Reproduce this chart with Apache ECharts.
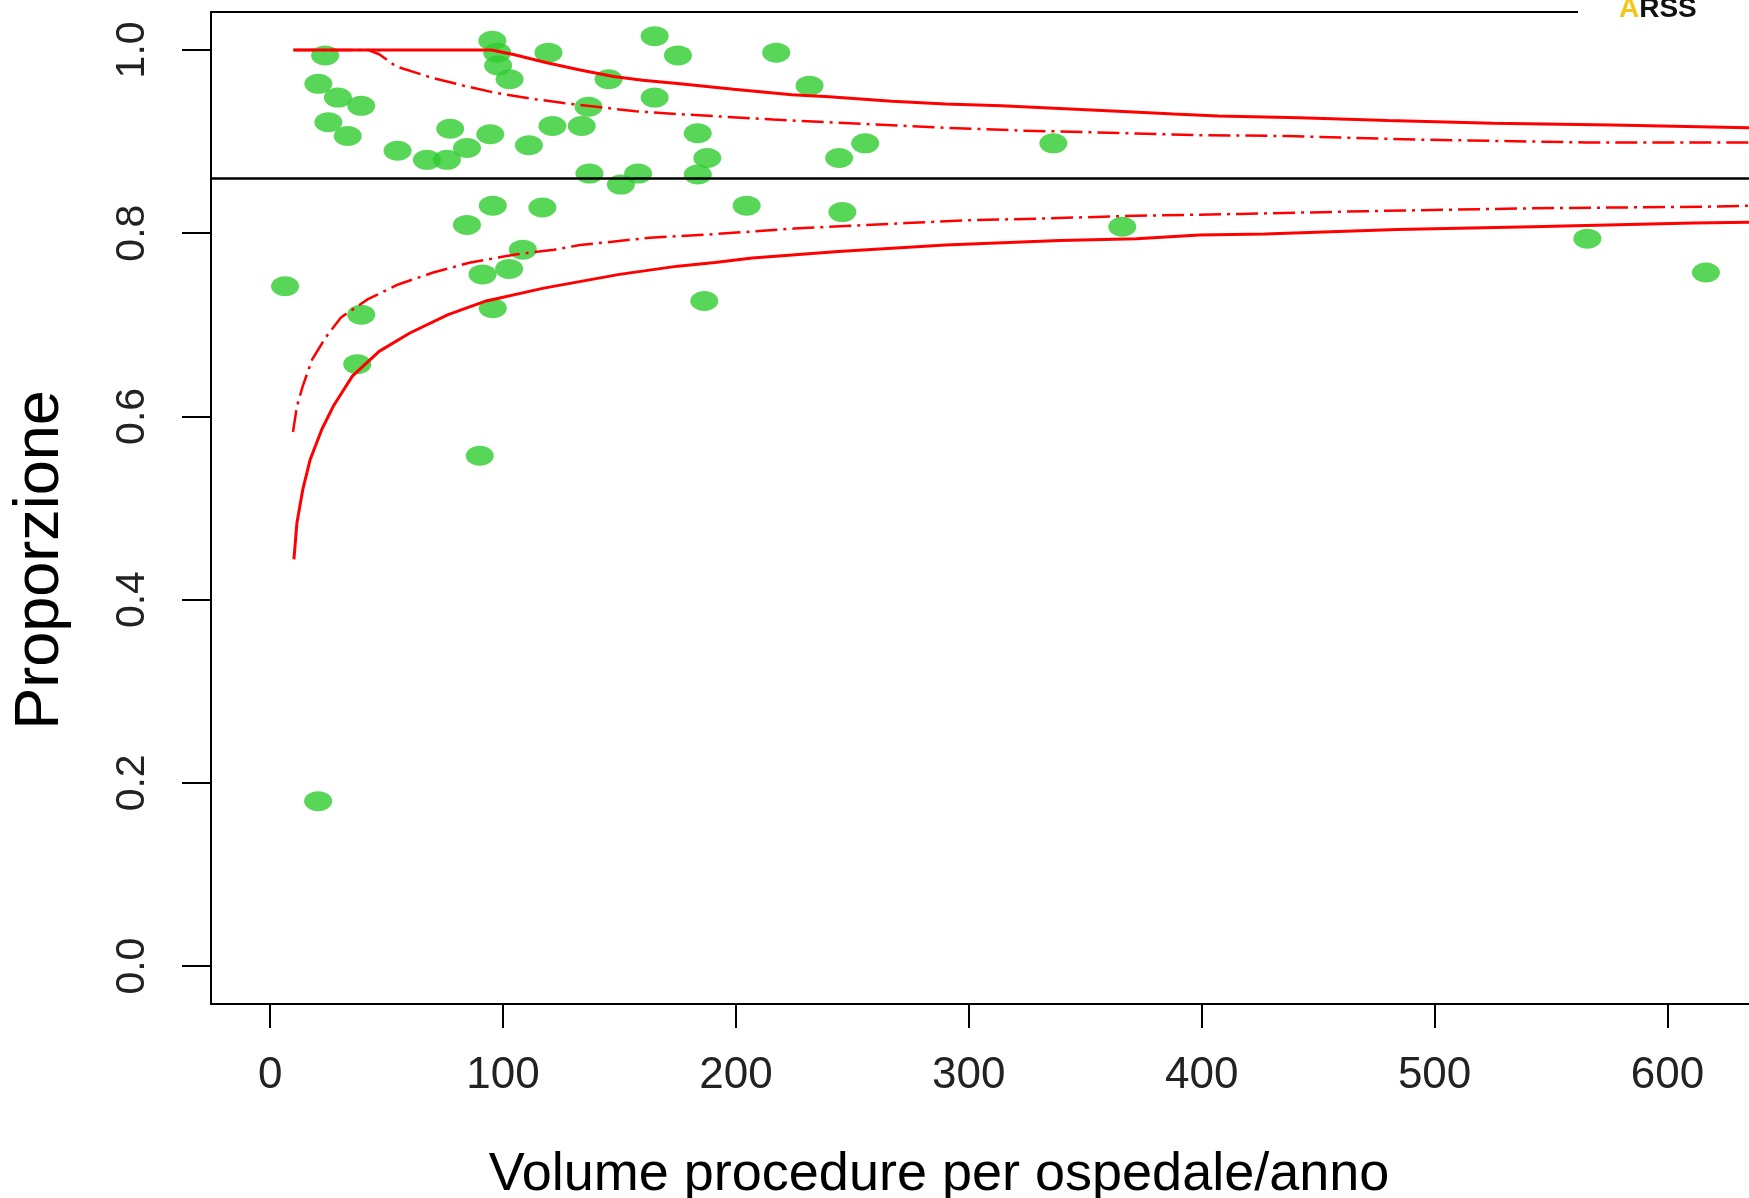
<!DOCTYPE html>
<html lang="it">
<head>
    <meta charset="UTF-8">
    <title>Funnel plot - proporzione per volume</title>
    <script src="https://cdn.jsdelivr.net/npm/echarts@6/dist/echarts.min.js"></script>
    <style>
        html, body { margin: 0; height: 100%; background: #fff; }
        #main { width: 1749px; height: 1198px; }
    </style>
</head>
<body>
<div id="main"></div>
<script>
    // volume procedure per ospedale/anno e proporzione osservata
    var hospVolume = [23.6, 20.7, 29.1, 39.1, 25.0, 33.3, 54.7, 67.3, 75.9, 77.3, 84.5, 94.5,
        95.4, 97.5, 97.9, 102.8, 119.5, 111.1, 121.2, 133.8, 136.7, 145.3, 165.1, 165.1, 175.1,
        137.1, 150.6, 158.0, 95.6, 116.9, 84.5, 108.5, 91.2, 102.6, 6.4, 39.1, 95.6, 37.4, 90.0,
        20.6, 217.3, 231.6, 183.6, 187.7, 183.6, 244.3, 255.5, 336.3, 204.6, 245.7, 365.9, 186.4,
        565.6, 616.5];
    var hospProp = [0.994, 0.963, 0.948, 0.939, 0.921, 0.906, 0.890, 0.880, 0.880, 0.914, 0.893, 0.908,
        1.010, 0.997, 0.983, 0.968, 0.997, 0.896, 0.917, 0.917, 0.938, 0.968, 1.015, 0.948, 0.994,
        0.865, 0.853, 0.865, 0.830, 0.828, 0.809, 0.782, 0.755, 0.761, 0.742, 0.711, 0.718, 0.657, 0.557,
        0.180, 0.997, 0.961, 0.909, 0.882, 0.864, 0.882, 0.898, 0.898, 0.830, 0.823, 0.807, 0.726,
        0.794, 0.757];

    // media regionale
    var meanProp = 0.865;

    // limiti di controllo: [volume, proporzione]
    var upperOuter = [[10, 1.0], [95, 1.0], [104.5, 0.995], [118.8, 0.986], [133.1, 0.978], [147.4, 0.971],
        [160, 0.967], [176, 0.963], [199, 0.957], [224, 0.951], [240, 0.949], [267, 0.944], [290, 0.941],
        [314, 0.939], [339, 0.936], [364, 0.933], [388, 0.930], [407, 0.928], [442, 0.926], [480, 0.923],
        [525, 0.920], [576, 0.918], [635, 0.915]];
    var upperInner = [[10, 1.0], [42, 1.0], [47, 0.995], [54, 0.982], [69, 0.970], [83, 0.961], [97, 0.953],
        [111.5, 0.947], [126, 0.942], [140, 0.938], [157, 0.933], [175, 0.930], [216, 0.924], [257, 0.919],
        [290, 0.915], [322, 0.912], [355, 0.910], [399, 0.907], [437, 0.906], [495, 0.902], [565, 0.899],
        [635, 0.899]];
    var lowerInner = [[9.8, 0.583], [11.5, 0.611], [14, 0.633], [18, 0.662], [23.8, 0.686], [30.4, 0.708],
        [42, 0.728], [55, 0.744], [70, 0.757], [86, 0.768], [106, 0.777], [122, 0.782], [133, 0.787],
        [163, 0.795], [191, 0.799], [225, 0.805], [273, 0.811], [299, 0.814], [332, 0.816], [372, 0.819],
        [417, 0.821], [471, 0.824], [538, 0.827], [619, 0.829], [635, 0.830]];
    var lowerOuter = [[10.2, 0.444], [11.5, 0.484], [14, 0.520], [17.2, 0.553], [22.2, 0.586], [27.1, 0.611],
        [35.3, 0.644], [46.8, 0.671], [60, 0.691], [76.4, 0.711], [92.8, 0.726], [117.5, 0.740], [150, 0.755],
        [175, 0.764], [191, 0.768], [207, 0.773], [244, 0.780], [290, 0.787], [339, 0.792], [372, 0.794],
        [399, 0.798], [427, 0.799], [484, 0.804], [542, 0.807], [611, 0.811], [635, 0.812]];

    var xTicks = [0, 100, 200, 300, 400, 500, 600];
    var yTicks = [0, 0.2, 0.4, 0.6, 0.8, 1.0];

    var font = '"Liberation Sans", Arial, sans-serif';
    var black = { color: '#000', width: 2 };

    var points = hospVolume.map(function (v, i) { return [v, hospProp[i]]; });

    function limitLine(data, dashed) {
        return {
            type: 'line',
            data: data,
            symbol: 'none',
            silent: true,
            z: 5,
            lineStyle: {
                color: '#ff0000',
                width: dashed ? 2.5 : 3,
                type: dashed ? [22, 6, 3, 6] : 'solid'
            }
        };
    }

    var option = {
        backgroundColor: '#fff',
        animation: false,
        grid: { left: 211, top: 12, right: 0, bottom: 194 },
        xAxis: [{
            type: 'value',
            min: -25.4,
            max: 635,
            position: 'bottom',
            axisLine: { onZero: false, lineStyle: black },
            axisTick: { customValues: xTicks, length: 24, lineStyle: black },
            axisLabel: {
                customValues: xTicks, fontSize: 44, fontFamily: font,
                color: '#222', margin: 50
            },
            splitLine: { show: false }
        }, {
            type: 'value',
            min: -25.4,
            max: 635,
            position: 'top',
            axisLine: { onZero: false, lineStyle: black },
            axisTick: { show: false },
            axisLabel: { show: false },
            splitLine: { show: false }
        }],
        yAxis: {
            type: 'value',
            min: -0.0414,
            max: 1.0414,
            axisLine: { show: true, onZero: false, lineStyle: black },
            axisTick: { show: true, customValues: yTicks, length: 29, lineStyle: black },
            axisLabel: {
                customValues: yTicks, rotate: 90, fontSize: 41, fontFamily: font,
                color: '#222', margin: 58,
                formatter: function (v) { return v.toFixed(1); }
            },
            splitLine: { show: false }
        },
        series: [{
            type: 'scatter',
            data: points,
            symbol: 'circle',
            symbolSize: [28, 20],
            z: 2,
            itemStyle: { color: '#2ecc2e' },
            markLine: {
                silent: true,
                symbol: 'none',
                label: { show: false },
                lineStyle: { color: '#000', width: 2.5, type: 'solid' },
                data: [{ yAxis: meanProp }]
            }
        },
            limitLine(upperOuter, false),
            limitLine(upperInner, true),
            limitLine(lowerInner, true),
            limitLine(lowerOuter, false)
        ],
        graphic: [{
            type: 'text',
            x: 41,
            y: 560,
            rotation: Math.PI / 2,
            style: {
                text: 'Proporzione', fontSize: 63, fontFamily: font, fill: '#000',
                textAlign: 'center', textVerticalAlign: 'middle'
            }
        }, {
            type: 'text',
            x: 939,
            y: 1175,
            style: {
                text: 'Volume procedure per ospedale/anno', fontSize: 54, fontFamily: font, fill: '#000',
                textAlign: 'center', textVerticalAlign: 'middle'
            }
        }, {
            type: 'rect',
            shape: { x: 1578, y: 0, width: 171, height: 24 },
            style: { fill: '#fff' },
            z: 100
        }, {
            type: 'text',
            x: 1619,
            y: 23,
            z: 101,
            style: {
                text: '{a|A}{b|RSS}',
                textVerticalAlign: 'bottom',
                rich: {
                    a: { fontSize: 28, fontWeight: 'bold', fontFamily: font, fill: '#f5c518' },
                    b: { fontSize: 28, fontWeight: 'bold', fontFamily: font, fill: '#111' }
                }
            }
        }]
    };

    var myChart = echarts.init(document.getElementById('main'));
    myChart.setOption(option);
</script>
</body>
</html>
